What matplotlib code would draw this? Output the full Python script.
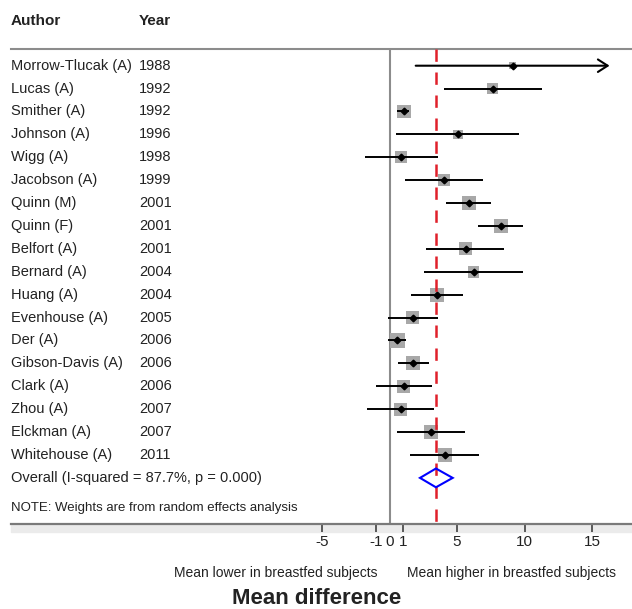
import numpy as np
import matplotlib
matplotlib.use("Agg")
import matplotlib.pyplot as plt
from matplotlib.patches import Polygon, Rectangle

plt.rcParams['font.family'] = ['Liberation Sans', 'DejaVu Sans']

# study data (mean difference, 95% CI, % weight)
authors = ["Morrow-Tlucak (A)", "Lucas (A)", "Smither (A)", "Johnson (A)", "Wigg (A)",
           "Jacobson (A)", "Quinn (M)", "Quinn (F)", "Belfort (A)", "Bernard (A)",
           "Huang (A)", "Evenhouse (A)", "Der (A)", "Gibson-Davis (A)", "Clark (A)",
           "Zhou (A)", "Elckman (A)", "Whitehouse (A)"]
years = ["1988", "1992", "1992", "1996", "1998", "1999", "2001", "2001", "2001", "2004",
         "2004", "2005", "2006", "2006", "2006", "2007", "2007", "2011"]
est = [9.12, 7.64, 1.07, 5.07, 0.83, 4.04, 5.89, 8.26, 5.64, 6.23,
       3.52, 1.72, 0.56, 1.77, 1.05, 0.83, 3.07, 4.13]
ci_lo = [1.94, 4.06, 0.58, 0.46, -1.81, 1.12, 4.16, 6.58, 2.70, 2.56,
         1.62, -0.14, -0.14, 0.61, -1.02, -1.67, 0.53, 1.52]
ci_hi = [16.30, 11.27, 1.47, 9.62, 3.57, 6.95, 7.54, 9.86, 8.51, 9.89,
         5.44, 3.57, 1.22, 2.95, 3.17, 3.32, 5.57, 6.63]
weights = [1.9, 3.9, 6.6, 3.2, 4.7, 4.7, 6.6, 6.6, 5.7, 4.7,
           6.6, 5.7, 7.7, 6.6, 5.7, 5.7, 6.6, 6.6]
overall = [3.44, 2.26, 4.68]
overall_label = "Overall (I-squared = 87.7%, p = 0.000)"
xtick_vals = [-5, -1, 0, 1, 5, 10, 15]

W, H = 632, 609
fig = plt.figure(figsize=(W / 100, H / 100), dpi=100)

# axes spans the whole width (label columns live inside it, like Stata)
ax_top, ax_bot, ax_left = 49, 524, 11
ax = fig.add_axes([ax_left / W, 1 - ax_bot / H, (W - ax_left) / W, (ax_bot - ax_top) / H])

x0_px, px_per_unit = 389.5, 13.5
def px2x(p):
    return (p - x0_px) / px_per_unit

row0_px, row_step = 65.7, 22.9
def py2row(p):
    return (p - row0_px) / row_step

ax.set_xlim(px2x(ax_left), px2x(W))
ax.set_ylim(py2row(ax_bot), py2row(ax_top))

text_col = '#222222'
n = len(authors)
rows = np.arange(n)

# weight boxes
side_px = 15 * np.sqrt(np.array(weights) / max(weights))
ax.scatter(est, rows, marker='s', s=(side_px * 0.72) ** 2, color='#a8a8a8',
           linewidths=0, zorder=2)

# confidence intervals
for i in range(n):
    if ci_hi[i] > 16:
        ax.annotate('', xy=(ci_hi[i], i), xytext=(ci_lo[i], i),
                    arrowprops=dict(arrowstyle='->,head_length=0.7,head_width=0.45',
                                    lw=1.5, color='black', shrinkA=0, shrinkB=0,
                                    mutation_scale=10), zorder=3)
    else:
        ax.plot([ci_lo[i], ci_hi[i]], [i, i], color='black', lw=1.4, zorder=3,
                solid_capstyle='butt')
ax.plot(est, rows, linestyle='none', marker='D', markersize=3.4, color='black', zorder=4)

# reference lines
ax.axvline(0, color='#8c8c8c', lw=1.5, zorder=1)
ax.plot([overall[0], overall[0]], [py2row(ax_top), py2row(ax_bot)], color='#e0202a',
        lw=1.8, dashes=(4.93, 4.27), zorder=5)

# overall diamond
r = n
dh = 0.41
ax.add_patch(Polygon([(overall[1], r), (overall[0], r - dh), (overall[2], r), (overall[0], r + dh)],
                     closed=True, fill=False, edgecolor='#0000ff', lw=1.5, zorder=6))

# text columns
for i in range(n):
    ax.text(px2x(11), i, authors[i], ha='left', va='center', fontsize=10.5, color=text_col)
    ax.text(px2x(139), i, years[i], ha='left', va='center', fontsize=10.5, color=text_col)
ax.text(px2x(11), r, overall_label, ha='left', va='center', fontsize=10.5, color=text_col)
ax.text(px2x(11), py2row(508), "NOTE: Weights are from random effects analysis",
        ha='left', va='center', fontsize=9.5, color=text_col)

fig.text(11 / W, 1 - 20.7 / H, "Author", fontweight='bold', fontsize=11, va='center', color=text_col)
fig.text(139 / W, 1 - 20.7 / H, "Year", fontweight='bold', fontsize=11, va='center', color=text_col)

# spines / axis
for s in ['left', 'right']:
    ax.spines[s].set_visible(False)
ax.spines['top'].set_color('#8c8c8c')
ax.spines['top'].set_linewidth(1.5)
ax.spines['bottom'].set_color('#7a7a7a')
ax.spines['bottom'].set_linewidth(1.6)
ax.set_yticks([])
ax.set_xticks(xtick_vals)
ax.set_xticklabels([str(v) for v in xtick_vals])
ax.tick_params(axis='x', direction='out', length=5.8, width=1.1, color='#333333',
               labelsize=11, labelcolor=text_col, pad=2)
ax.xaxis.get_major_ticks()[xtick_vals.index(0)].tick1line.set_visible(False)

# light band under the axis line
fig.add_artist(Rectangle((ax_left / W, 1 - 531.5 / H), (W - ax_left) / W, 7 / H,
                         transform=fig.transFigure, color='#ebebeb', zorder=-1))

fig.text(377 / W, 1 - 573 / H, "Mean lower in breastfed subjects", ha='right', va='center',
         fontsize=10, color=text_col)
fig.text(407 / W, 1 - 573 / H, "Mean higher in breastfed subjects", ha='left', va='center',
         fontsize=10, color=text_col)
fig.text(316.5 / W, 1 - 598 / H, "Mean difference", ha='center', va='center',
         fontsize=16, fontweight='bold', color=text_col)

fig.savefig("out.png", dpi=100)
